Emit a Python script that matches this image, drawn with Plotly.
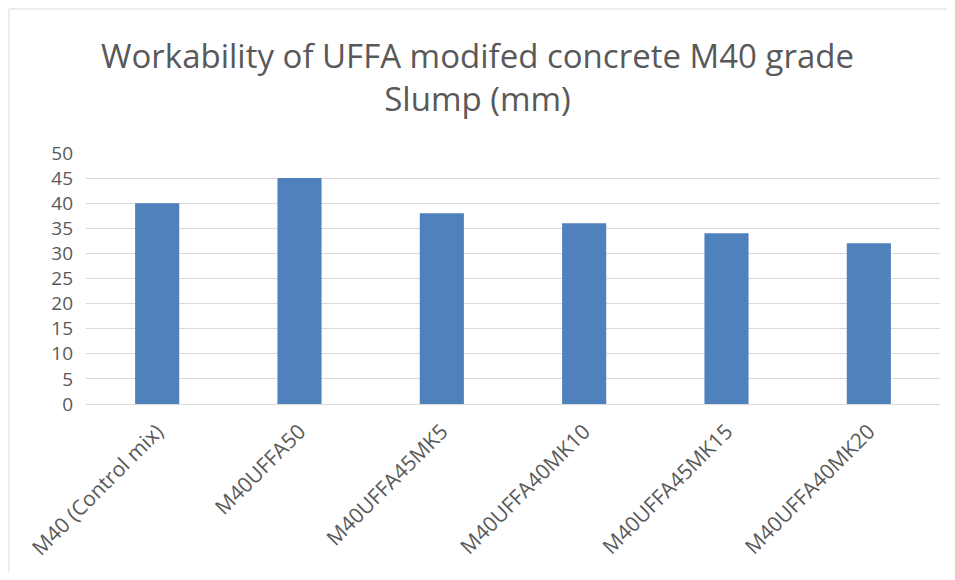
import plotly.graph_objects as go

mixes = ["M40 (Control mix)", "M40UFFA50", "M40UFFA45MK5", "M40UFFA40MK10",
         "M40UFFA45MK15", "M40UFFA40MK20"]
slump_mm = [40, 45, 38, 36, 34, 32]
y_ticks = [0, 5, 10, 15, 20, 25, 30, 35, 40, 45, 50]

# page body has an 8px margin, so the figure is drawn 8px in from the window edge
OFF = 8
W, H = 955 - 2 * OFF, 580 - 2 * OFF
L, R, T, B = 86 - OFF, 7, 153 - OFF, 168
pw, ph = W - L - R, H - T - B


def px_x(x):
    return (x - OFF - L) / pw


def px_y(y):
    return (H - B - (y - OFF)) / ph


fig = go.Figure()
fig.add_trace(go.Bar(x=mixes, y=slump_mm, marker_color="#4F81BD",
                     marker_line_width=0, showlegend=False))

fig.update_layout(
    width=W, height=H,
    margin=dict(l=L, r=R, t=T, b=B),
    paper_bgcolor="white", plot_bgcolor="white",
    bargap=0.69,
    font=dict(family="Open Sans, Liberation Sans, sans-serif", color="#595959"),
    title=dict(text="Workability of UFFA modifed concrete M40 grade<br>Slump (mm)",
               x=0.5, xanchor="center", y=(H - 60) / H, yanchor="top",
               font=dict(size=33, color="#595959", family="Open Sans, sans-serif")),
    shapes=[dict(type="rect", xref="paper", yref="paper",
                 x0=px_x(9), x1=px_x(952), y0=px_y(579), y1=px_y(9),
                 line=dict(color="#D9D9D9", width=1), layer="below")],
)
fig.update_yaxes(range=[0, 50], tickvals=y_ticks, showgrid=True,
                 gridcolor="#D9D9D9", gridwidth=1, zeroline=False,
                 showline=False, ticks="", tickfont=dict(size=19, color="#595959"),
                 ticklabelstandoff=12)
fig.update_xaxes(tickangle=-45, showline=True, linecolor="#D9D9D9", linewidth=1,
                 ticks="", tickfont=dict(size=21, color="#595959"),
                 ticklabelstandoff=6)

fig.write_html("out.html")
